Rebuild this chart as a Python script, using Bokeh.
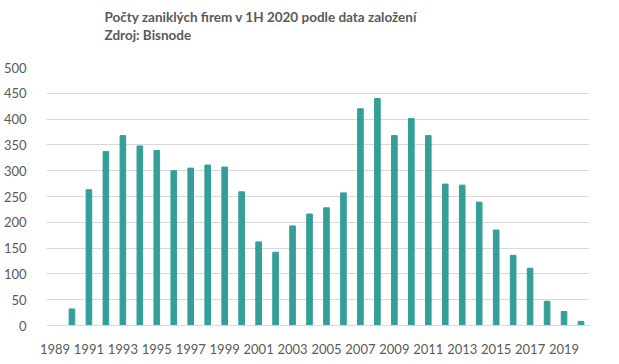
from bokeh.plotting import figure
from bokeh.models import Range1d, FixedTicker, Title, ColumnDataSource
from bokeh.embed import file_html
from bokeh.resources import INLINE

years = list(range(1989, 2021))
counts = [0, 32, 263, 337, 368, 348, 339, 300, 305, 311, 307, 259, 162, 142, 193, 216,
          228, 257, 420, 440, 368, 401, 368, 274, 272, 239, 185, 136, 111, 47, 27, 8]
y_ticks = [0, 50, 100, 150, 200, 250, 300, 350, 400, 450, 500]
x_ticks = [y for y in years if (y - 1989) % 2 == 0 and y < 2020]

FONT = "Lato"
GRAY = "#595959"

src = ColumnDataSource(dict(year=years, count=counts))

p = figure(width=603, height=356, output_backend="svg", toolbar_location=None,
           x_range=Range1d(years[0] - 0.5, years[-1] + 0.5), y_range=Range1d(0, 500),
           min_border_left=40, min_border_right=14, min_border_bottom=20, min_border_top=0)
p.vbar(x="year", top="count", width=0.33, source=src, color="#339f98")

# spacer title (outermost)
p.title.text = " "
p.title.text_font_size = "1px"
p.title.standoff = 3

spacer = Title(text=" ", text_font_size="1px", standoff=22)
t_src = Title(text="Zdroj: Bisnode", align="left", offset=58, standoff=0,
              text_font=FONT, text_font_size="13.5px", text_font_style="bold", text_color=GRAY)
t_main = Title(text="Počty zaniklých firem v 1H 2020 podle data založení", align="left", offset=58,
               standoff=0, text_font=FONT, text_font_size="13.5px", text_font_style="bold",
               text_color=GRAY)
p.add_layout(spacer, "above")
p.add_layout(t_src, "above")
p.add_layout(t_main, "above")

p.outline_line_color = None
p.xgrid.grid_line_color = None
p.ygrid.grid_line_color = "#d9d9d9"
p.ygrid.grid_line_width = 1

p.yaxis.ticker = FixedTicker(ticks=y_ticks)
p.xaxis.ticker = FixedTicker(ticks=x_ticks)
for ax in (p.xaxis, p.yaxis):
    ax.major_tick_line_color = None
    ax.minor_tick_line_color = None
    ax.major_label_text_font = FONT
    ax.major_label_text_font_size = "13px"
    ax.major_label_text_color = GRAY
p.yaxis.axis_line_color = None
p.yaxis.major_label_standoff = 14
p.xaxis.axis_line_color = "#d9d9d9"
p.xaxis.major_label_standoff = 12

open("out.html", "w").write(file_html(p, INLINE))
